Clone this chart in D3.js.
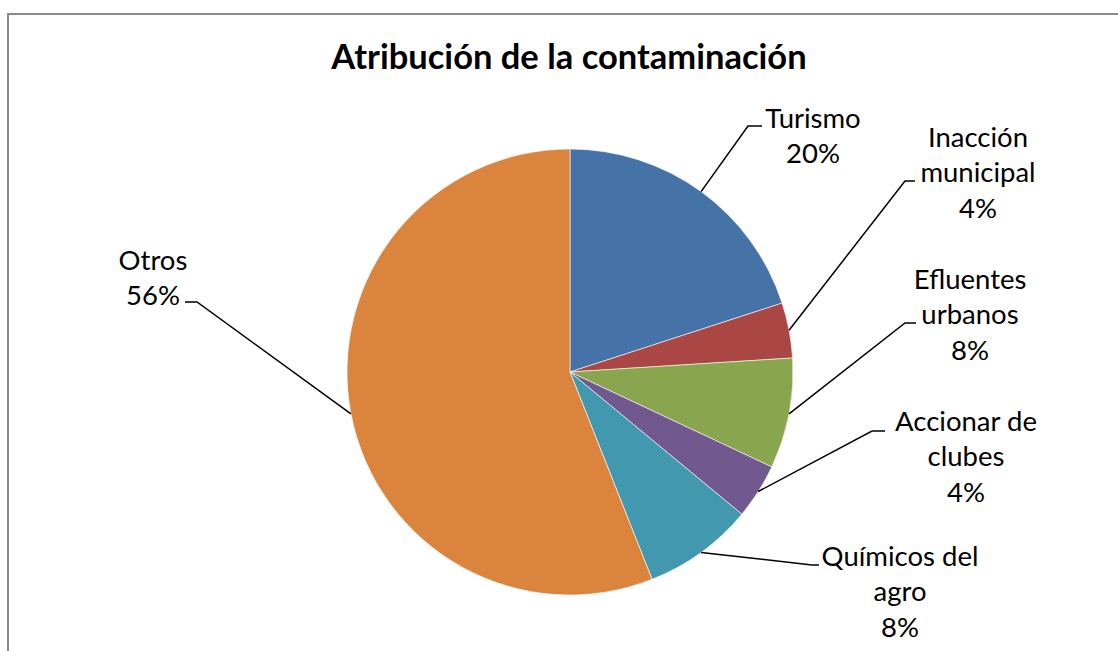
<!DOCTYPE html>
<html>
<head>
<meta charset="utf-8">
<script src="https://cdn.jsdelivr.net/npm/d3@7"></script>
<style>
  html, body { margin: 0; padding: 0; background: #fff; }
  svg { display: block; }
</style>
</head>
<body>
<svg id="chart" width="1118" height="651"></svg>
<script>
"use strict";

// data
const categories = ["Turismo", "Inacción municipal", "Efluentes urbanos", "Accionar de clubes", "Químicos del agro", "Otros"];
const values = [20, 4, 8, 4, 8, 56];
const labelLines = [
  ["Turismo", "20%"],
  ["Inacción", "municipal", "4%"],
  ["Efluentes", "urbanos", "8%"],
  ["Accionar de", "clubes", "4%"],
  ["Químicos del", "agro", "8%"],
  ["Otros", "56%"]
];
const colors = ["#4572A7", "#AA4643", "#89A54E", "#71588F", "#4198AF", "#DB843D"];

// label layout: elbow point of the leader, end of the short tail, label centre and first line centre
const labelLayout = [
  {ex: 748, ey: 126, tx: 762, cx: 813, cy: 118},
  {ex: 905, ey: 181, tx: 915, cx: 978, cy: 137},
  {ex: 905, ey: 323, tx: 916, cx: 970, cy: 279},
  {ex: 872, ey: 431, tx: 885, cx: 966, cy: 421},
  {ex: 812, ey: 565, tx: 819, cx: 900, cy: 556},
  {ex: 197, ey: 302, tx: 185, cx: 153, cy: 260}
];

const W = 1118, H = 651;
const cx = 570, cy = 372, R = 223;
const lineH = 35.5;
const font = "Lato, 'Open Sans', sans-serif";

const svg = d3.select('#chart');

// chart frame (only left/top edges are visible in the crop)
svg.append('rect')
  .attr('x', 8).attr('y', 14)
  .attr('width', W + 20).attr('height', H + 20)
  .attr('fill', '#fff')
  .attr('stroke', '#8a8a8a')
  .attr('stroke-width', 2);

svg.append('text')
  .attr('x', 569).attr('y', 69)
  .attr('text-anchor', 'middle')
  .attr('font-family', font)
  .attr('font-weight', 'bold')
  .attr('font-size', 34.5)
  .attr('fill', '#000')
  .text('Atribución de la contaminación');

const pie = d3.pie().sort(null).value(d => d)(values);
const arc = d3.arc().innerRadius(0).outerRadius(R);
const edge = d3.arc().innerRadius(R).outerRadius(R);

const g = svg.append('g').attr('transform', `translate(${cx},${cy})`);

g.selectAll('path.slice')
  .data(pie)
  .enter().append('path')
  .attr('class', 'slice')
  .attr('d', arc)
  .attr('fill', (d, i) => colors[i])
  .attr('stroke', '#fff')
  .attr('stroke-width', 0.6);

// leader lines
pie.forEach((d, i) => {
  const p = edge.centroid(d);
  const L = labelLayout[i];
  svg.append('path')
    .attr('d', `M${cx + p[0]},${cy + p[1]} L${L.ex},${L.ey} L${L.tx},${L.ey}`)
    .attr('fill', 'none')
    .attr('stroke', '#000')
    .attr('stroke-width', 1.5);
});

// labels
labelLines.forEach((lines, i) => {
  const L = labelLayout[i];
  const t = svg.append('text')
    .attr('text-anchor', 'middle')
    .attr('font-family', font)
    .attr('font-size', 27.5)
    .attr('fill', '#000');
  lines.forEach((s, k) => {
    t.append('tspan')
      .attr('x', L.cx)
      .attr('y', L.cy + k * lineH)
      .attr('dy', '0.36em')
      .text(s);
  });
});
</script>
</body>
</html>
